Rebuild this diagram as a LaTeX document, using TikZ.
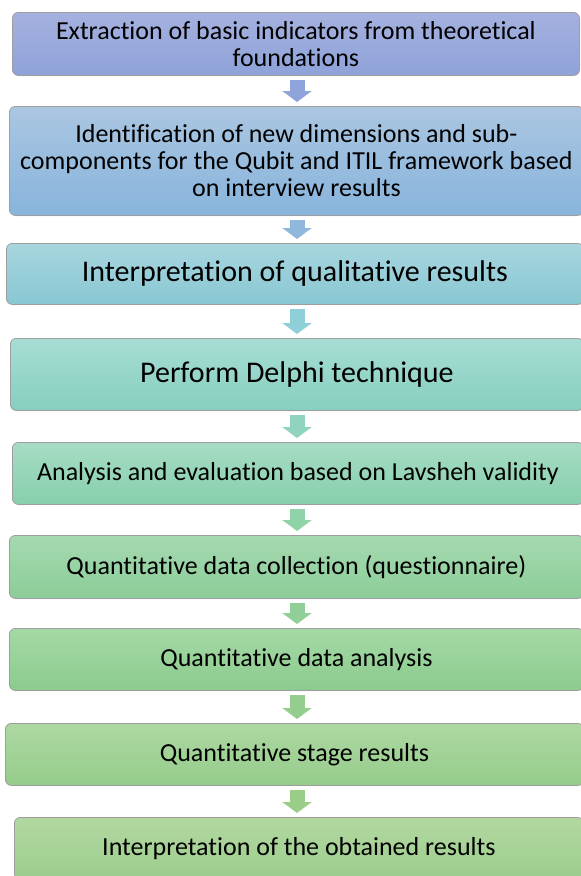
\documentclass[tikz,border=0pt]{standalone}
\usepackage{fontspec}
\setmainfont[Ligatures=NoCommon]{Carlito}
\usetikzlibrary{arrows.meta,shadows}

\definecolor{top1}{HTML}{A5B1DF}\definecolor{bot1}{HTML}{8EA2D9}
\definecolor{top2}{HTML}{AAC6E1}\definecolor{bot2}{HTML}{88B4DC}
\definecolor{top3}{HTML}{A8D6DF}\definecolor{bot3}{HTML}{88C7D3}
\definecolor{top4}{HTML}{A6DDD4}\definecolor{bot4}{HTML}{86CFBF}
\definecolor{top5}{HTML}{A6DCC4}\definecolor{bot5}{HTML}{87CFAC}
\definecolor{top6}{HTML}{A5D9B1}\definecolor{bot6}{HTML}{8CCD98}
\definecolor{top7}{HTML}{A5D9A5}\definecolor{bot7}{HTML}{8BCB8E}
\definecolor{top8}{HTML}{ADD8A2}\definecolor{bot8}{HTML}{95CC8A}
\definecolor{top9}{HTML}{B2D8A0}\definecolor{bot9}{HTML}{9CCD8D}

\definecolor{arr1}{HTML}{8FA4DA}
\definecolor{arr2}{HTML}{8FB8DC}
\definecolor{arr3}{HTML}{8FCFD8}
\definecolor{arr4}{HTML}{90D4C0}
\definecolor{arr5}{HTML}{90D3A8}
\definecolor{arr6}{HTML}{90D098}
\definecolor{arr7}{HTML}{93CE8E}
\definecolor{arr8}{HTML}{9ACE88}

\begin{document}
\begin{tikzpicture}[x=1pt,y=-1pt,
	stepbox/.style={draw=black!38, line width=0.8pt, rounded corners=6pt,
		anchor=north west, inner sep=0pt, align=center, text=black,
		font=\fontsize{26}{27}\selectfont,
		drop shadow={shadow xshift=0.6pt, shadow yshift=-0.8pt, opacity=0.25}},
	bigtext/.style={font=\fontsize{30}{32}\selectfont},
	flowarrow/.style={line width=15pt, -{Triangle[width=29pt,length=11pt]}}
	]

	\useasboundingbox (0,0) rectangle (581,876);
	\clip (0,0) rectangle (581,876);

	\coordinate (ax) at (297,0);

	\node[stepbox, top color=top1, bottom color=bot1, minimum width=567pt, minimum height=63pt]
		(b1) at (12,12) {Extraction of basic indicators from theoretical\\foundations};
	\node[stepbox, top color=top2, bottom color=bot2, minimum width=574pt, minimum height=109pt]
		(b2) at (9,106) {Identification of new dimensions and sub-\\
		components for the Qubit and ITIL framework based\\on interview results};
	\node[stepbox, bigtext, top color=top3, bottom color=bot3, minimum width=577pt, minimum height=61pt]
		(b3) at (6,243) {Interpretation of qualitative results};
	\node[stepbox, bigtext, top color=top4, bottom color=bot4, minimum width=573pt, minimum height=72pt]
		(b4) at (10,338) {Perform Delphi technique};
	\node[stepbox, top color=top5, bottom color=bot5, minimum width=571pt, minimum height=62pt]
		(b5) at (12,442) {Analysis and evaluation based on Lavsheh validity};
	\node[stepbox, top color=top6, bottom color=bot6, minimum width=574pt, minimum height=63pt]
		(b6) at (9,535) {Quantitative data collection (questionnaire)};
	\node[stepbox, top color=top7, bottom color=bot7, minimum width=574pt, minimum height=62pt]
		(b7) at (9,628) {Quantitative data analysis};
	\node[stepbox, top color=top8, bottom color=bot8, minimum width=578pt, minimum height=62pt]
		(b8) at (5,723) {Quantitative stage results};
	\node[stepbox, top color=top9, bottom color=bot9, minimum width=569pt, minimum height=62pt]
		(b9) at (14,817) {Interpretation of the obtained results};

	\foreach \i / \j in {
	1/2,
	2/3,
	3/4,
	4/5,
	5/6,
	6/7,
	7/8,
	8/9}
	{
		\draw[flowarrow, arr\i, shorten <=4pt, shorten >=4pt] (b\i.south -| ax) -- (b\j.north -| ax);
	};
\end{tikzpicture}
\end{document}
